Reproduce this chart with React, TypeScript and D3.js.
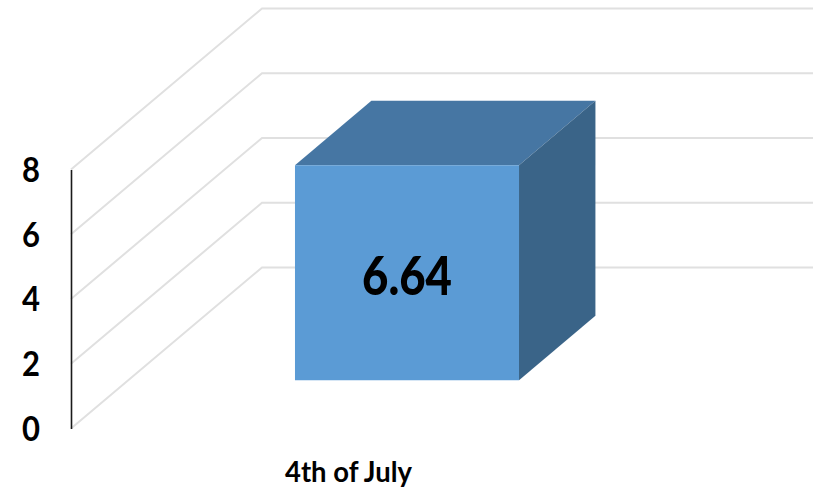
import React, { useRef, useLayoutEffect } from 'react';
import * as d3 from 'd3';

const categories = ['4th of July'];
const values = [6.64];
const yTicks = [0, 2, 4, 6, 8];

const width = 813;
const height = 491;
const font = 'Lato, "Noto Sans", sans-serif';

// oblique projection of the 3D box: depth 0 = front plane, 1 = back wall
const depthX = 191;
const depthY = -161;
const barDepthFront = 0.3;
const barDepthBack = 0.7;

const App: React.FC = () => {
  const ref = useRef<SVGSVGElement>(null);

  useLayoutEffect(() => {
    const svg = d3.select(ref.current);
    svg.selectAll('*').remove();

    const x = d3.scaleBand().domain(categories).range([71, 628.4]).padding(0.4266);
    const y = d3.scaleLinear().domain([0, 8]).range([428.5, 169.5]);

    const project = (px: number, v: number, d: number): [number, number] => [
      px + depthX * d,
      y(v) + depthY * d,
    ];
    const line = d3.line();

    // walls: one gridline per tick, up the side wall then along the back
    svg
      .append('g')
      .selectAll('path')
      .data(yTicks)
      .enter()
      .append('path')
      .attr('d', (t) =>
        line([project(71, t, 0), project(71, t, 1), project(628.4, t, 1)])
      )
      .attr('fill', 'none')
      .attr('stroke', '#e0e0e0')
      .attr('stroke-width', 2);

    // value axis
    const axis = d3.axisLeft(y).tickValues(yTicks).tickSize(0).tickPadding(31);
    const axisG = svg.append('g').attr('transform', 'translate(71,0)').call(axis as any);
    axisG.select('.domain').attr('stroke', '#1a1a1a').attr('stroke-width', 1.6);
    axisG
      .selectAll('text')
      .attr('dy', '0.35em')
      .attr('font-family', font)
      .attr('font-weight', 700)
      .attr('font-size', 34)
      .attr('textLength', 18)
      .attr('lengthAdjust', 'spacingAndGlyphs')
      .attr('fill', '#000');

    // the box
    categories.forEach((c, i) => {
      const x0 = x(c) as number;
      const x1 = x0 + x.bandwidth();
      const v = values[i];
      const f = barDepthFront;
      const b = barDepthBack;

      const faces: { pts: [number, number][]; fill: string }[] = [
        {
          pts: [project(x0, v, f), project(x0, v, b), project(x1, v, b), project(x1, v, f)],
          fill: '#4676a3',
        },
        {
          pts: [project(x1, v, f), project(x1, v, b), project(x1, 0, b), project(x1, 0, f)],
          fill: '#3a6488',
        },
        {
          pts: [project(x0, v, f), project(x1, v, f), project(x1, 0, f), project(x0, 0, f)],
          fill: '#5b9bd5',
        },
      ];
      svg
        .append('g')
        .selectAll('path')
        .data(faces)
        .enter()
        .append('path')
        .attr('d', (d) => line(d.pts) + 'Z')
        .attr('fill', (d) => d.fill);

      const front0 = project(x0, 0, f);
      const frontV = project(x1, v, f);
      svg
        .append('text')
        .attr('x', (front0[0] + frontV[0]) / 2)
        .attr('y', 295)
        .attr('text-anchor', 'middle')
        .attr('font-family', font)
        .attr('font-weight', 900)
        .attr('font-size', 54)
        .attr('textLength', 90)
        .attr('lengthAdjust', 'spacingAndGlyphs')
        .attr('fill', '#000')
        .text(String(v));

      svg
        .append('text')
        .attr('x', 348.5)
        .attr('y', 482)
        .attr('text-anchor', 'middle')
        .attr('font-family', font)
        .attr('font-weight', 700)
        .attr('font-size', 29)
        .attr('textLength', 127)
        .attr('lengthAdjust', 'spacingAndGlyphs')
        .attr('fill', '#000')
        .text(c);
    });
  }, []);

  return (
    <svg
      ref={ref}
      width={width}
      height={height}
      style={{ position: 'absolute', left: 0, top: 0, background: '#fff' }}
    />
  );
};

export default App;
